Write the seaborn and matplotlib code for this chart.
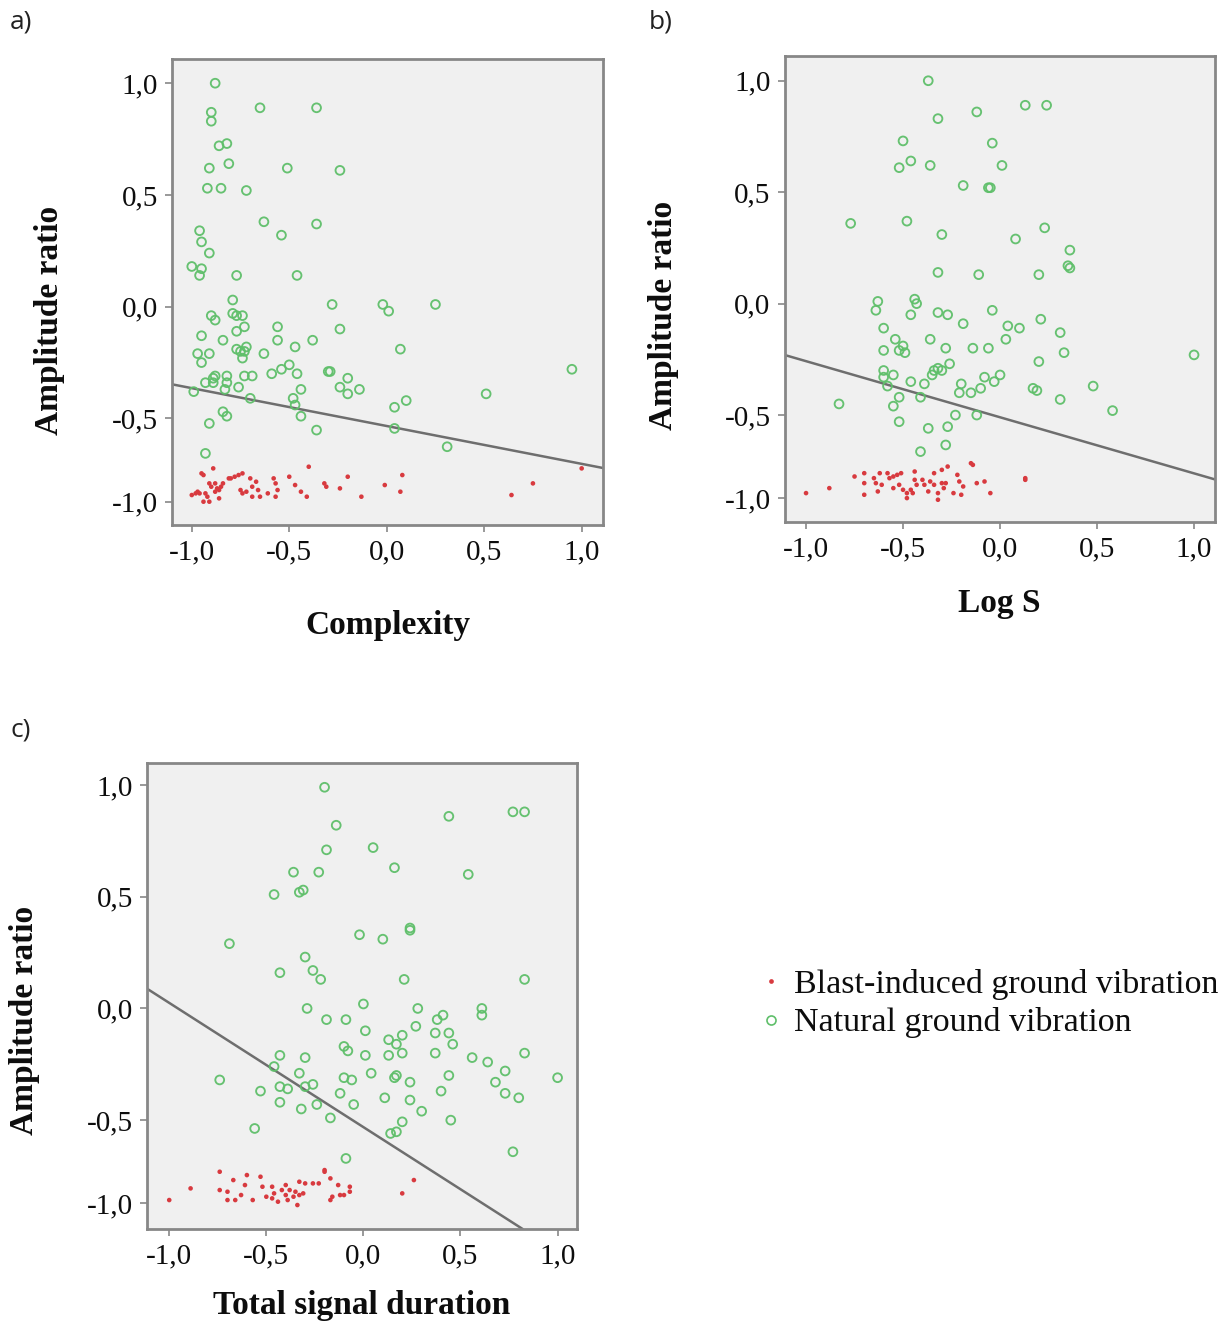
import numpy as np
import pandas as pd
import matplotlib
matplotlib.use("Agg")
import matplotlib.pyplot as plt
from matplotlib.lines import Line2D
import seaborn as sns

# ---------------- data ----------------
# a) Complexity vs amplitude ratio
a_nat_x = [-0.88, -0.65, -0.36, -0.90, -0.90, -0.86, -0.82, -0.81, -0.91, -0.51,
           -0.24, -0.92, -0.85, -0.72, -0.63, -0.36, -0.96, -0.54, -0.95, -0.91,
           -1.00, -0.95, -0.96, -0.77, -0.46, -0.79, -0.28, -0.02, 0.01, 0.25,
           -0.79, -0.77, -0.74, -0.90, -0.88, -0.73, -0.77, -0.56, -0.24, -0.95,
           -0.84, -0.56, -0.38, -0.72, -0.47, -0.77, -0.75, -0.73, -0.91, -0.97,
           -0.63, -0.74, -0.95, 0.07, -0.50, -0.54, -0.59, -0.46, -0.30, -0.29,
           -0.20, -0.82, -0.73, -0.69, -0.88, -0.89, -0.93, -0.89, -0.82, -0.83,
           -0.76, -0.44, -0.24, -0.14, -0.20, -0.99, -0.70, -0.48, -0.47, 0.51,
           0.95, 0.10, 0.04, -0.84, -0.82, -0.44, -0.91, -0.36, 0.04, 0.31,
           -0.93]
a_nat_y = [1.00, 0.89, 0.89, 0.87, 0.83, 0.72, 0.73, 0.64, 0.62, 0.62,
           0.61, 0.53, 0.53, 0.52, 0.38, 0.37, 0.34, 0.32, 0.29, 0.24,
           0.18, 0.17, 0.14, 0.14, 0.14, 0.03, 0.01, 0.01, -0.02, 0.01,
           -0.03, -0.04, -0.04, -0.04, -0.06, -0.09, -0.11, -0.09, -0.10, -0.13,
           -0.15, -0.15, -0.15, -0.18, -0.18, -0.19, -0.20, -0.20, -0.21, -0.21,
           -0.21, -0.23, -0.25, -0.19, -0.26, -0.28, -0.30, -0.30, -0.29, -0.29,
           -0.32, -0.31, -0.31, -0.31, -0.31, -0.32, -0.34, -0.34, -0.34, -0.37,
           -0.36, -0.37, -0.36, -0.37, -0.39, -0.38, -0.41, -0.41, -0.44, -0.39,
           -0.28, -0.42, -0.45, -0.47, -0.49, -0.49, -0.53, -0.57, -0.56, -0.67,
           -0.71]
a_blast_x = [-1.00, -0.98, -0.97, -0.96, -0.95, -0.94, -0.94, -0.93, -0.92, -0.91,
             -0.91, -0.90, -0.89, -0.88, -0.88, -0.87, -0.86, -0.86, -0.85, -0.84,
             -0.81, -0.80, -0.78, -0.76, -0.74, -0.75, -0.74, -0.72, -0.70, -0.69,
             -0.69, -0.67, -0.66, -0.65, -0.61, -0.58, -0.57, -0.56, -0.57, -0.50,
             -0.47, -0.44, -0.41, -0.40, -0.32, -0.31, -0.24, -0.20, -0.13, -0.01,
             0.07, 0.08, 0.64, 0.75, 1.00]
a_blast_y = [-0.96, -0.95, -0.94, -0.95, -0.83, -0.84, -1.00, -0.95, -0.97, -1.00,
             -0.89, -0.91, -0.80, -0.89, -0.94, -0.92, -0.98, -0.93, -0.91, -0.89,
             -0.86, -0.86, -0.85, -0.84, -0.83, -0.93, -0.95, -0.94, -0.86, -0.91,
             -0.97, -0.88, -0.93, -0.97, -0.95, -0.86, -0.89, -0.93, -0.97, -0.85,
             -0.90, -0.94, -0.97, -0.79, -0.89, -0.91, -0.92, -0.85, -0.97, -0.90,
             -0.94, -0.84, -0.96, -0.89, -0.80]
a_line_x = [-1.103, 1.111]
a_line_y = [-0.347, -0.798]

# b) Log S vs amplitude ratio
b_nat_x = [-0.37, 0.13, 0.24, -0.12, -0.32, -0.50, -0.04, -0.46, -0.52, -0.36,
           0.01, -0.19, -0.06, -0.05, -0.77, -0.48, -0.30, 0.23, 0.08, 0.36,
           0.35, 0.36, -0.32, -0.11, 0.20, -0.63, -0.64, -0.44, -0.43, -0.46,
           -0.32, -0.27, -0.04, -0.60, -0.19, 0.04, 0.10, 0.21, 0.31, -0.54,
           -0.36, 0.03, -0.50, -0.52, -0.49, -0.60, -0.28, -0.14, -0.06, 0.33,
           1.00, 0.20, -0.26, -0.34, -0.32, -0.30, -0.35, -0.60, -0.55, -0.60,
           -0.46, -0.39, -0.20, -0.08, -0.03, 0.00, -0.58, -0.10, 0.17, 0.19,
           0.48, -0.21, -0.15, -0.41, -0.52, 0.31, -0.55, -0.23, -0.12, -0.83,
           0.58, -0.52, -0.37, -0.27, -0.28, -0.41]
b_nat_y = [1.00, 0.89, 0.89, 0.86, 0.83, 0.73, 0.72, 0.64, 0.61, 0.62,
           0.62, 0.53, 0.52, 0.52, 0.36, 0.37, 0.31, 0.34, 0.29, 0.24,
           0.17, 0.16, 0.14, 0.13, 0.13, 0.01, -0.03, 0.02, 0.00, -0.05,
           -0.04, -0.05, -0.03, -0.11, -0.09, -0.10, -0.11, -0.07, -0.13, -0.16,
           -0.16, -0.16, -0.19, -0.21, -0.22, -0.21, -0.20, -0.20, -0.20, -0.22,
           -0.23, -0.26, -0.27, -0.30, -0.29, -0.30, -0.32, -0.30, -0.32, -0.33,
           -0.35, -0.36, -0.36, -0.33, -0.35, -0.32, -0.37, -0.38, -0.38, -0.39,
           -0.37, -0.40, -0.40, -0.42, -0.42, -0.43, -0.46, -0.50, -0.50, -0.45,
           -0.48, -0.54, -0.58, -0.57, -0.68, -0.72]
b_blast_x = [-1.00, -0.88, -0.75, -0.70, -0.70, -0.70, -0.65, -0.64, -0.63, -0.62,
             -0.61, -0.58, -0.57, -0.55, -0.55, -0.53, -0.52, -0.51, -0.50, -0.48,
             -0.48, -0.46, -0.45, -0.44, -0.44, -0.43, -0.40, -0.39, -0.37, -0.36,
             -0.34, -0.34, -0.32, -0.30, -0.30, -0.29, -0.32, -0.28, -0.27, -0.24,
             -0.22, -0.21, -0.20, -0.19, -0.15, -0.14, -0.12, -0.08, -0.05, 0.13,
             0.13]
b_blast_y = [-0.97, -0.94, -0.87, -0.85, -0.91, -0.98, -0.88, -0.91, -0.96, -0.85,
             -0.92, -0.85, -0.88, -0.87, -0.94, -0.86, -0.92, -0.85, -0.95, -0.97,
             -1.00, -0.95, -0.97, -0.84, -0.89, -0.92, -0.89, -0.92, -0.96, -0.90,
             -0.85, -0.92, -0.97, -0.83, -0.91, -0.94, -1.01, -0.91, -0.81, -0.97,
             -0.86, -0.90, -0.98, -0.93, -0.79, -0.80, -0.91, -0.90, -0.97, -0.88,
             -0.89]
b_line_x = [-1.108, 1.115]
b_line_y = [-0.231, -0.890]

# c) Total signal duration vs amplitude ratio
c_nat_x = [-0.20, 0.44, 0.77, 0.83, -0.14, 0.05, -0.19, 0.16, -0.36, -0.23,
           0.54, -0.46, -0.33, -0.31, 0.24, 0.24, -0.69, -0.02, 0.10, -0.30,
           -0.43, -0.26, -0.22, 0.21, 0.83, -0.29, 0.00, 0.28, 0.61, 0.61,
           -0.19, -0.09, 0.41, 0.38, 0.27, 0.01, 0.37, 0.44, 0.20, 0.13,
           0.46, 0.17, -0.10, -0.08, 0.20, 0.01, 0.37, 0.13, -0.43, -0.30,
           0.56, 0.64, 0.83, 0.73, -0.46, -0.33, 0.04, 0.17, 0.16, -0.10,
           -0.06, 0.44, 1.00, -0.74, 0.68, -0.30, -0.26, -0.43, -0.39, 0.24,
           -0.53, -0.12, 0.40, 0.73, 0.80, -0.43, -0.24, -0.05, 0.11, 0.24,
           -0.32, 0.30, -0.17, 0.20, 0.45, -0.56, 0.14, 0.17, 0.77, -0.09]
c_nat_y = [0.99, 0.86, 0.88, 0.88, 0.82, 0.72, 0.71, 0.63, 0.61, 0.61,
           0.60, 0.51, 0.52, 0.53, 0.36, 0.35, 0.29, 0.33, 0.31, 0.23,
           0.16, 0.17, 0.13, 0.13, 0.13, 0.00, 0.02, 0.00, 0.00, -0.03,
           -0.05, -0.05, -0.03, -0.05, -0.08, -0.10, -0.11, -0.11, -0.12, -0.14,
           -0.16, -0.16, -0.17, -0.19, -0.20, -0.21, -0.20, -0.21, -0.21, -0.22,
           -0.22, -0.24, -0.20, -0.28, -0.26, -0.29, -0.29, -0.30, -0.31, -0.31,
           -0.32, -0.30, -0.31, -0.32, -0.33, -0.35, -0.34, -0.35, -0.36, -0.33,
           -0.37, -0.38, -0.37, -0.38, -0.40, -0.42, -0.43, -0.43, -0.40, -0.41,
           -0.45, -0.46, -0.49, -0.51, -0.50, -0.55, -0.58, -0.57, -0.69, -0.73]
c_blast_x = [-1.00, -0.89, -0.74, -0.74, -0.70, -0.70, -0.67, -0.66, -0.63, -0.61,
             -0.60, -0.57, -0.53, -0.52, -0.50, -0.47, -0.47, -0.46, -0.44, -0.42,
             -0.40, -0.40, -0.39, -0.38, -0.36, -0.35, -0.34, -0.33, -0.33, -0.31,
             -0.30, -0.26, -0.23, -0.20, -0.20, -0.17, -0.17, -0.16, -0.13, -0.12,
             -0.10, -0.07, -0.07, 0.20, 0.26]
c_blast_y = [-0.98, -0.91, -0.81, -0.92, -0.93, -0.98, -0.86, -0.98, -0.95, -0.89,
             -0.83, -0.98, -0.84, -0.90, -0.96, -0.90, -0.97, -0.94, -0.99, -0.92,
             -0.89, -0.95, -0.98, -0.92, -0.96, -0.93, -1.01, -0.95, -0.87, -0.94,
             -0.88, -0.88, -0.88, -0.81, -0.80, -0.85, -0.98, -0.96, -0.89, -0.95,
             -0.95, -0.90, -0.93, -0.94, -0.86]
c_line_x = [-1.117, 0.82]
c_line_y = [0.09, -1.154]

tick_values = [-1.0, -0.5, 0.0, 0.5, 1.0]
tick_labels = ["-1,0", "-0,5", "0,0", "0,5", "1,0"]
group_labels = ["Blast-induced ground vibration", "Natural ground vibration"]

# ---------------- style ----------------
sns.set_style("white")
plt.rcParams["font.family"] = ["Liberation Serif", "DejaVu Serif"]

GREEN = "#5fbf6a"
RED = "#d83a3f"
FRAME = "#878787"
FACE = "#f0f0f0"
LINE = "#6e6e6e"
INK = "#0d0d0d"

# the value axis is compressed below -0,5
K = 0.745


def y_fwd(v):
    v = np.asarray(v, dtype=float)
    return np.where(v >= -0.5, v, -0.5 + (v + 0.5) * K)


def y_inv(v):
    v = np.asarray(v, dtype=float)
    return np.where(v >= -0.5, v, -0.5 + (v + 0.5) / K)


W, H = 1229, 1325
fig = plt.figure(figsize=(W / 100, H / 100), dpi=100)
fig.patch.set_facecolor("white")


def px_axes(left, top, right, bottom):
    return fig.add_axes([left / W, 1 - bottom / H, (right - left) / W, (bottom - top) / H])


panels = [
    dict(rect=(171.7, 59.3, 603.3, 525), xlim=(-1.103, 1.111), ylim=(-1.14, 1.107),
         nx=a_nat_x, ny=a_nat_y, bx=a_blast_x, by=a_blast_y, lx=a_line_x, ly=a_line_y,
         xlabel="Complexity", xl_y=-0.215, yl=(-0.282, 0.44), tag="a)", tag_xy=(10, 22)),
    dict(rect=(784.5, 56, 1215, 522), xlim=(-1.111, 1.108), ylim=(-1.144, 1.111),
         nx=b_nat_x, ny=b_nat_y, bx=b_blast_x, by=b_blast_y, lx=b_line_x, ly=b_line_y,
         xlabel="Log S", xl_y=-0.174, yl=(-0.282, 0.444), tag="b)", tag_xy=(649, 22)),
    dict(rect=(146.7, 762.7, 577, 1229), xlim=(-1.116, 1.10), ylim=(-1.154, 1.10),
         nx=c_nat_x, ny=c_nat_y, bx=c_blast_x, by=c_blast_y, lx=c_line_x, ly=c_line_y,
         xlabel="Total signal duration", xl_y=-0.165, yl=(-0.283, 0.448), tag="c)",
         tag_xy=(10, 730)),
]

for p in panels:
    ax = px_axes(*p["rect"])
    ax.set_facecolor(FACE)
    ax.set_yscale("function", functions=(y_fwd, y_inv))

    df_nat = pd.DataFrame({"x": p["nx"], "y": p["ny"]})
    df_blast = pd.DataFrame({"x": p["bx"], "y": p["by"]})

    sns.scatterplot(data=df_nat, x="x", y="y", ax=ax, marker="o", s=40,
                    facecolors="none", edgecolor=GREEN, linewidth=1.35, alpha=0.95,
                    legend=False, zorder=3)
    sns.scatterplot(data=df_blast, x="x", y="y", ax=ax, marker="o", s=11,
                    color=RED, edgecolor="none", linewidth=0, legend=False, zorder=3)
    sns.lineplot(x=p["lx"], y=p["ly"], ax=ax, color=LINE, linewidth=1.8,
                 zorder=2, estimator=None, sort=False)

    ax.set_xlim(*p["xlim"])
    ax.set_ylim(*p["ylim"])
    ax.set_xticks(tick_values)
    ax.set_xticklabels(tick_labels)
    ax.set_yticks(tick_values)
    ax.set_yticklabels(tick_labels)
    ax.minorticks_off()
    ax.tick_params(axis="both", which="major", direction="out", length=5, width=1.2,
                   color=FRAME, labelsize=21, pad=5, labelcolor=INK,
                   bottom=True, left=True)
    for sp in ax.spines.values():
        sp.set_visible(True)
        sp.set_color(FRAME)
        sp.set_linewidth(2.0)

    ax.set_xlabel(p["xlabel"], fontsize=24, fontweight="bold", va="center", color=INK)
    ax.xaxis.set_label_coords(0.5, p["xl_y"])
    ax.set_ylabel("Amplitude ratio", fontsize=24, fontweight="bold", va="center",
                  color=INK)
    ax.yaxis.set_label_coords(*p["yl"])

    tx, ty = p["tag_xy"]
    fig.text(tx / W, 1 - ty / H, p["tag"], fontsize=19, family=["Open Sans", "DejaVu Sans"],
             ha="left", va="center", color="#222222")

# legend for both groups
handles = [
    Line2D([], [], linestyle="none", marker="o", markersize=3.4, markerfacecolor=RED,
           markeredgecolor="none"),
    Line2D([], [], linestyle="none", marker="o", markersize=6.5, markerfacecolor="none",
           markeredgecolor=GREEN, markeredgewidth=1.2),
]
fig.legend(handles, group_labels, loc="upper left", bbox_to_anchor=(762 / W, 1 - 969 / H),
           frameon=False, fontsize=24.5, handlelength=0.55, handletextpad=0.4,
           labelspacing=0.22, borderaxespad=0, borderpad=0, labelcolor=INK)

fig.savefig("out.png", dpi=100, facecolor="white")
